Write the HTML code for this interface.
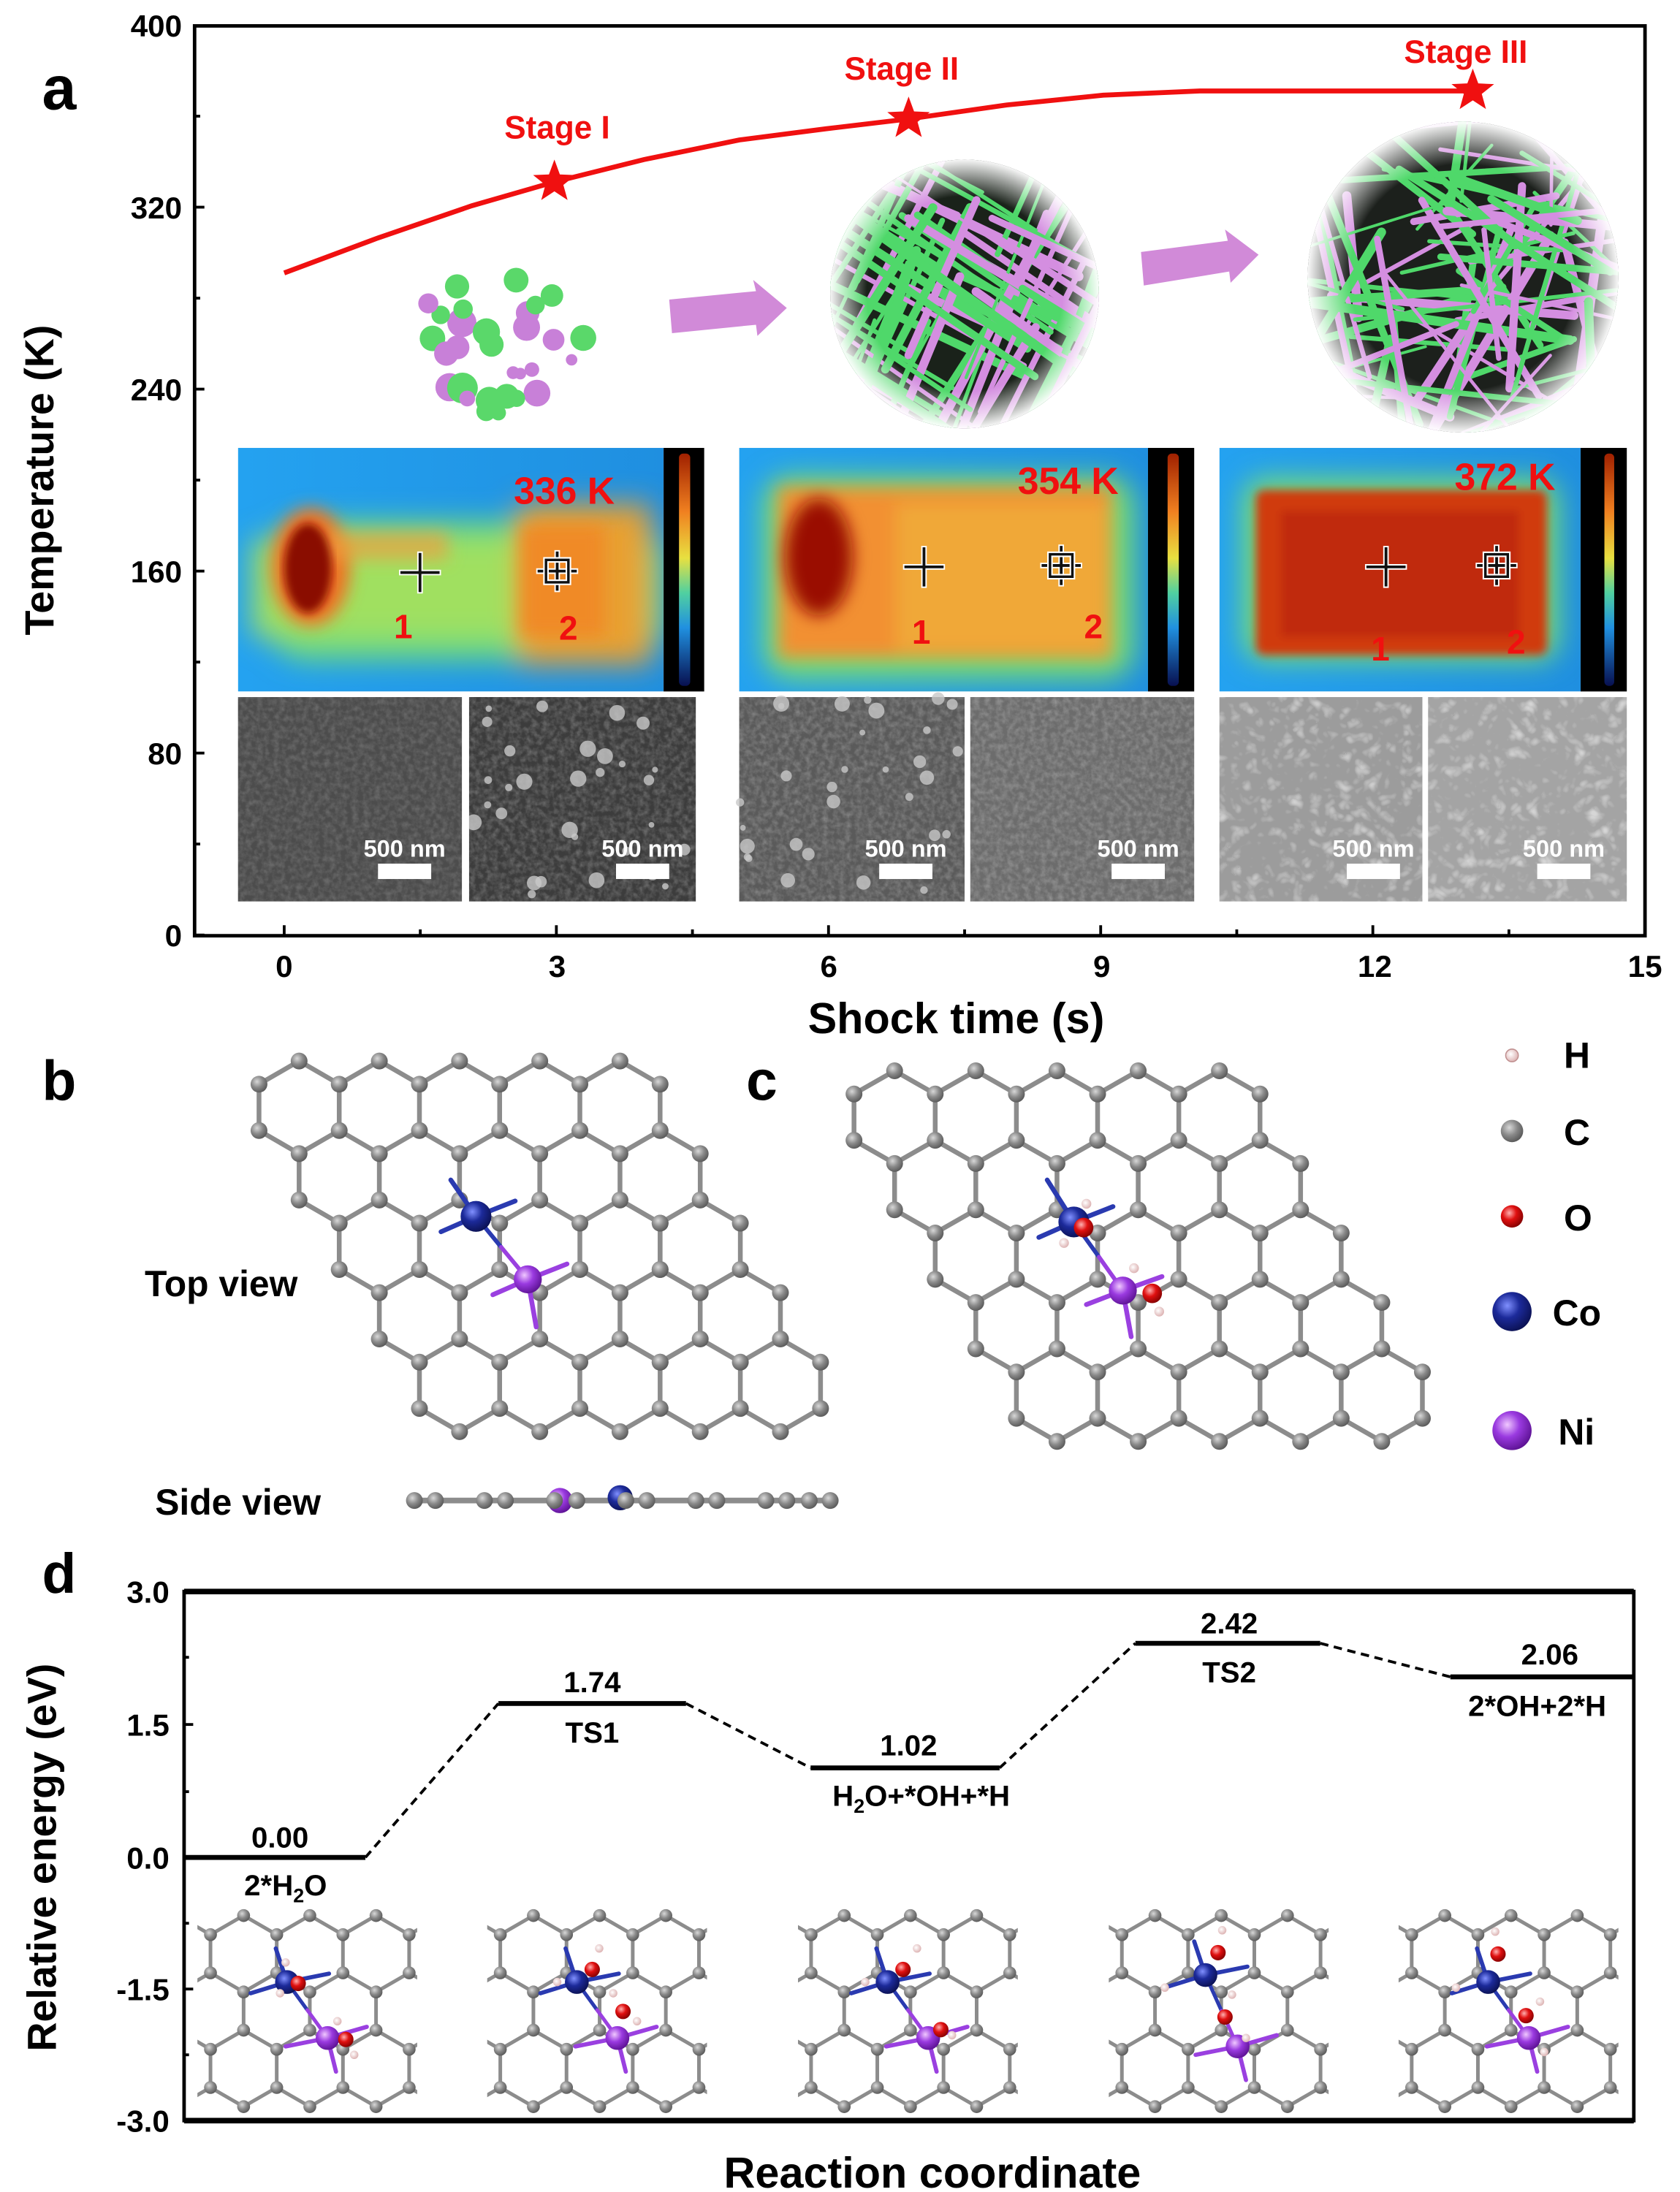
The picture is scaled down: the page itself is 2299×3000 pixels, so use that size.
<!DOCTYPE html>
<html><head><meta charset="utf-8">
<style>
html,body{margin:0;padding:0;background:#fff;}
svg{display:block;}
text{font-family:"Liberation Sans",Arial,sans-serif;font-weight:bold;}
</style></head>
<body>
<svg id="s" xmlns="http://www.w3.org/2000/svg" width="2299" height="3000" viewBox="0 0 1200 1566" preserveAspectRatio="none">
<defs>
  <filter id="blur6" x="-30%" y="-30%" width="160%" height="160%"><feGaussianBlur stdDeviation="6"/></filter>
  <filter id="blur10" x="-30%" y="-30%" width="160%" height="160%"><feGaussianBlur stdDeviation="10"/></filter>
  <filter id="blur3"><feGaussianBlur stdDeviation="3"/></filter>
  <filter id="noise" x="0" y="0" width="100%" height="100%">
    <feTurbulence type="fractalNoise" baseFrequency="0.25" numOctaves="3" seed="3"/>
    <feColorMatrix type="matrix" values="0 0 0 0 1  0 0 0 0 1  0 0 0 0 1  1.2 0 0 0 -0.4"/>
  </filter>
  <filter id="noise2" x="0" y="0" width="100%" height="100%">
    <feTurbulence type="turbulence" baseFrequency="0.09" numOctaves="2" seed="7"/>
    <feColorMatrix type="matrix" values="0 0 0 0 1  0 0 0 0 1  0 0 0 0 1  2 0 0 0 -0.5"/>
  </filter>
  <linearGradient id="cbar" x1="0" y1="0" x2="0" y2="1">
    <stop offset="0" stop-color="#a02000"/><stop offset="0.25" stop-color="#f08020"/>
    <stop offset="0.45" stop-color="#e8e040"/><stop offset="0.6" stop-color="#50d0a0"/>
    <stop offset="0.75" stop-color="#2090e0"/><stop offset="1" stop-color="#081050"/>
  </linearGradient>
  <linearGradient id="tbg" x1="0" y1="0" x2="1" y2="0">
    <stop offset="0" stop-color="#24a2f0"/><stop offset="1" stop-color="#1f8fe0"/>
  </linearGradient>
  <radialGradient id="fade">
    <stop offset="0.72" stop-color="#fff" stop-opacity="0"/>
    <stop offset="1" stop-color="#fff" stop-opacity="1"/>
  </radialGradient>
  <radialGradient id="gC" cx="0.38" cy="0.35" r="0.7"><stop offset="0" stop-color="#d8d8d8"/><stop offset="0.5" stop-color="#8a8a8a"/><stop offset="1" stop-color="#555"/></radialGradient>
  <radialGradient id="gCo" cx="0.38" cy="0.35" r="0.7"><stop offset="0" stop-color="#8090ff"/><stop offset="0.45" stop-color="#1c2a9a"/><stop offset="1" stop-color="#0a1050"/></radialGradient>
  <radialGradient id="gNi" cx="0.38" cy="0.35" r="0.7"><stop offset="0" stop-color="#f0c8ff"/><stop offset="0.45" stop-color="#9a3ae0"/><stop offset="1" stop-color="#5a1090"/></radialGradient>
  <radialGradient id="gO" cx="0.38" cy="0.35" r="0.7"><stop offset="0" stop-color="#ffb0b0"/><stop offset="0.45" stop-color="#e01010"/><stop offset="1" stop-color="#800000"/></radialGradient>
  <radialGradient id="gH" cx="0.4" cy="0.4" r="0.7"><stop offset="0" stop-color="#fff"/><stop offset="1" stop-color="#d8a8a8"/></radialGradient>
  <clipPath id="c1"><circle cx="689" cy="210" r="96"/></clipPath>
  <clipPath id="c2"><circle cx="1045" cy="198" r="111"/></clipPath>
  <clipPath id="t1"><rect x="170" y="320" width="304" height="174"/></clipPath>
  <clipPath id="t2"><rect x="528" y="320" width="292" height="174"/></clipPath>
  <clipPath id="t3"><rect x="871" y="320" width="258" height="174"/></clipPath>
</defs>

<!-- ============ PANEL A ============ -->
<text x="30" y="78" font-size="44">a</text>
<rect x="139" y="18.5" width="1036" height="650" fill="none" stroke="#000" stroke-width="2.5"/>
<g id="aticks" stroke="#000" stroke-width="2"></g>
<g font-size="22" text-anchor="end">
  <text x="130" y="26">400</text><text x="130" y="156">320</text><text x="130" y="286">240</text>
  <text x="130" y="416">160</text><text x="130" y="546">80</text><text x="130" y="676">0</text>
</g>
<g font-size="22" text-anchor="middle">
  <text x="203" y="698">0</text><text x="398" y="698">3</text><text x="592" y="698">6</text>
  <text x="787" y="698">9</text><text x="982" y="698">12</text><text x="1175" y="698">15</text>
</g>
<text x="683" y="738" font-size="31" text-anchor="middle">Shock time (s)</text>
<text transform="translate(38,343) rotate(-90)" font-size="29" text-anchor="middle">Temperature (K)</text>

<!-- spheres & particles -->
<g id="parts"></g>
<polygon points="478,214 540,208 538,200 562,220 541,240 540,232 480,238" fill="#d18ad8"/>
<polygon points="815,180 877,172 875,164 899,182 879,202 878,194 817,204" fill="#d18ad8"/>
<g clip-path="url(#c1)"><rect x="590" y="110" width="200" height="200" fill="#1a221a"/><g id="sph1"></g><circle cx="689" cy="210" r="97" fill="url(#fade)"/></g>
<g clip-path="url(#c2)"><rect x="930" y="85" width="230" height="230" fill="#1c201c"/><g id="sph2"></g><circle cx="1045" cy="198" r="112" fill="url(#fade)"/></g>

<!-- red curve -->
<polyline points="203,195 270,170 337,147 396,130 460,114 528,100 590,92 649,85 719,75 788,68 857,65 1052,65" fill="none" stroke="#f01010" stroke-width="3.5"/>
<g id="stars" fill="#f01010"></g>
<g fill="#f01010" font-size="23" text-anchor="middle">
  <text x="398" y="99">Stage I</text><text x="644" y="57">Stage II</text><text x="1047" y="45">Stage III</text>
</g>

<!-- thermal images -->
<g clip-path="url(#t1)">
  <rect x="170" y="320" width="304" height="174" fill="url(#tbg)"/>
  <g filter="url(#blur10)">
    <rect x="190" y="372" width="285" height="100" rx="30" fill="#6fdc7a"/>
    <rect x="180" y="385" width="280" height="70" fill="#a0e060"/>
    <rect x="370" y="360" width="95" height="115" fill="#e8a030"/>
  </g>
  <g filter="url(#blur6)">
    <rect x="372" y="375" width="60" height="80" fill="#f08a28"/>
    <ellipse cx="222" cy="405" rx="28" ry="42" fill="#f07020"/>
    <rect x="230" y="380" width="90" height="20" fill="#f0a040" opacity="0.7"/>
  </g>
  <ellipse cx="220" cy="406" rx="17" ry="32" fill="#8a0a02" filter="url(#blur3)"/>
</g>
<rect x="474" y="320" width="29" height="174" fill="#000"/>
<rect x="485" y="324" width="8" height="166" rx="3" fill="url(#cbar)"/>

<g clip-path="url(#t2)">
  <rect x="528" y="320" width="292" height="174" fill="url(#tbg)"/>
  <g filter="url(#blur10)"><rect x="545" y="340" width="265" height="145" rx="20" fill="#7ade70"/></g>
  <g filter="url(#blur6)"><rect x="556" y="348" width="238" height="122" fill="#f29030"/>
  <rect x="640" y="360" width="150" height="105" fill="#f0a838"/></g>
  <ellipse cx="585" cy="398" rx="24" ry="42" fill="#9a1004" filter="url(#blur6)"/>
</g>
<rect x="820" y="320" width="33" height="174" fill="#000"/>
<rect x="834" y="324" width="8" height="166" rx="3" fill="url(#cbar)"/>

<g clip-path="url(#t3)">
  <rect x="871" y="320" width="258" height="174" fill="url(#tbg)"/>
  <g filter="url(#blur10)"><rect x="888" y="342" width="225" height="130" rx="15" fill="#7ade70"/></g>
  <g filter="url(#blur3)"><rect x="897" y="350" width="208" height="118" rx="6" fill="#d03a10"/>
  <rect x="915" y="365" width="170" height="90" fill="#c02a08"/></g>
</g>
<rect x="1129" y="320" width="33" height="174" fill="#000"/>
<rect x="1146" y="324" width="7" height="166" rx="3" fill="url(#cbar)"/>

<g fill="#f01010" font-size="27" text-anchor="middle">
  <text x="403" y="360">336 K</text><text x="763" y="353">354 K</text><text x="1075" y="350">372 K</text>
</g>
<g fill="#f01010" font-size="24" text-anchor="middle">
  <text x="288" y="456">1</text><text x="406" y="457">2</text>
  <text x="658" y="460">1</text><text x="781" y="456">2</text>
  <text x="986" y="472">1</text><text x="1083" y="467">2</text>
</g>
<g id="cross"></g>

<!-- SEM images -->
<g id="sem"></g>

<!-- ============ PANEL B / C ============ -->
<text x="30" y="786" font-size="40">b</text>
<text x="533" y="786" font-size="40">c</text>
<text x="158" y="926" font-size="26" text-anchor="middle">Top view</text>
<text x="170" y="1082" font-size="26" text-anchor="middle">Side view</text>
<g id="latb"></g>
<g id="latc"></g>
<g id="side"></g>

<!-- legend -->
<circle cx="1080" cy="754" r="4.5" fill="url(#gH)" stroke="#c09090" stroke-width="0.8"/>
<circle cx="1080" cy="808" r="8" fill="url(#gC)"/>
<circle cx="1080" cy="869" r="8" fill="url(#gO)"/>
<circle cx="1080" cy="937" r="14" fill="url(#gCo)"/>
<circle cx="1080" cy="1022" r="14" fill="url(#gNi)"/>
<g font-size="26">
  <text x="1117" y="763">H</text><text x="1117" y="818">C</text><text x="1117" y="879">O</text>
  <text x="1109" y="947">Co</text><text x="1113" y="1032">Ni</text>
</g>

<!-- ============ PANEL D ============ -->
<text x="30" y="1138" font-size="40">d</text>
<g id="latd"></g>
<rect x="131.5" y="1137" width="1035.5" height="378" fill="none" stroke="#000" stroke-width="2.5"/>
<line x1="131.5" y1="1137" x2="1167" y2="1137" stroke="#000" stroke-width="4"/>
<line x1="131.5" y1="1515" x2="1167" y2="1515" stroke="#000" stroke-width="4"/>
<g stroke="#000" stroke-width="2">
  <line x1="131.5" y1="1232" x2="138" y2="1232"/><line x1="131.5" y1="1327" x2="138" y2="1327"/>
  <line x1="131.5" y1="1421" x2="138" y2="1421"/>
  <line x1="131.5" y1="1184" x2="135" y2="1184"/><line x1="131.5" y1="1280" x2="135" y2="1280"/>
  <line x1="131.5" y1="1374" x2="135" y2="1374"/><line x1="131.5" y1="1468" x2="135" y2="1468"/>
</g>
<g font-size="22" text-anchor="end">
  <text x="121" y="1145">3.0</text><text x="121" y="1240">1.5</text><text x="121" y="1335">0.0</text>
  <text x="121" y="1429">-1.5</text><text x="121" y="1523">-3.0</text>
</g>
<text transform="translate(40,1327) rotate(-90)" font-size="29" text-anchor="middle">Relative energy (eV)</text>
<text x="666" y="1563" font-size="31" text-anchor="middle">Reaction coordinate</text>
<g stroke="#000" stroke-width="3.5">
  <line x1="131.5" y1="1327" x2="261" y2="1327"/>
  <line x1="356" y1="1217" x2="490" y2="1217"/>
  <line x1="579" y1="1263" x2="714" y2="1263"/>
  <line x1="811" y1="1174" x2="943" y2="1174"/>
  <line x1="1036" y1="1198" x2="1167" y2="1198"/>
</g>
<g stroke="#000" stroke-width="2" stroke-dasharray="6,4" fill="none">
  <line x1="261" y1="1327" x2="356" y2="1217"/>
  <line x1="490" y1="1217" x2="579" y2="1263"/>
  <line x1="714" y1="1263" x2="811" y2="1174"/>
  <line x1="943" y1="1174" x2="1036" y2="1198"/>
</g>
<g font-size="21" text-anchor="middle">
  <text x="200" y="1320">0.00</text>
  <text x="423" y="1209">1.74</text><text x="423" y="1245">TS1</text>
  <text x="649" y="1254">1.02</text>
  <text x="658" y="1290">H<tspan font-size="14" dy="5">2</tspan><tspan dy="-5">O+*OH+*H</tspan></text>
  <text x="878" y="1167">2.42</text><text x="878" y="1202">TS2</text>
  <text x="1107" y="1189">2.06</text><text x="1098" y="1226">2*OH+2*H</text>
  <text x="204" y="1354">2*H<tspan font-size="14" dy="5">2</tspan><tspan dy="-5">O</tspan></text>
</g>
</svg>

<script>
(function(){
var NS="http://www.w3.org/2000/svg";
function el(parent,tag,attrs){var e=document.createElementNS(NS,tag);for(var k in attrs)e.setAttribute(k,attrs[k]);parent.appendChild(e);return e;}
function $(id){return document.getElementById(id);}
var seed=12345;function rnd(){seed=(seed*1103515245+12345)&0x7fffffff;return seed/0x7fffffff;}

// axis ticks panel a
var at=$("aticks");
[18.5,148,278,408,538,668].forEach(function(y){el(at,"line",{x1:139,y1:y,x2:146,y2:y});});
[83,213,343,473,603].forEach(function(y){el(at,"line",{x1:139,y1:y,x2:143,y2:y});});
for(var i=0;i<=10;i++){var x=203+i*97.2;el(at,"line",{x1:x,y1:668,x2:x,y2:i%2==0?661:664});}

// stars
function star(g,cx,cy,R){var p=[];for(var k=0;k<10;k++){var r=k%2?R*0.42:R;var a=-Math.PI/2+k*Math.PI/5;p.push((cx+r*Math.cos(a)).toFixed(1)+","+(cy+r*Math.sin(a)).toFixed(1));}el(g,"polygon",{points:p.join(" ")});}
star($("stars"),396,130,16);star($("stars"),649,85,16);star($("stars"),1052,65,16);

// particles
var pg=$("parts");
for(var i=0;i<32;i++){var x=295+rnd()*125,y=190+rnd()*110;var r=4+rnd()*7;
 el(pg,"circle",{cx:x,cy:y,r:r,fill:rnd()<0.55?"#5ad86a":"#c880d8"});}

// sphere textures
function sphere(g,cx,cy,R,n,mode){
 for(var i=0;i<n;i++){var x=cx-R+rnd()*2*R,y=cy-R+rnd()*2*R;var ang;
  if(mode==1){ang=(rnd()<0.5?-1.1:0.5)+ (rnd()-0.5)*0.25;}else{ang=rnd()*Math.PI;}
  var L=40+rnd()*80;var c=rnd()<0.5?"#4fd86a":"#d48ee0";
  el(g,"line",{x1:x-L*Math.cos(ang),y1:y-L*Math.sin(ang),x2:x+L*Math.cos(ang),y2:y+L*Math.sin(ang),stroke:c,"stroke-width":(2+rnd()*5).toFixed(1),"stroke-linecap":"round"});}
}
sphere($("sph1"),689,210,96,70,1);
sphere($("sph2"),1045,198,111,80,2);

// crosshairs
var cg=$("cross");
function cross(x,y,big){el(cg,"line",{x1:x-15,y1:y,x2:x+15,y2:y,stroke:"#fff","stroke-width":4});el(cg,"line",{x1:x,y1:y-15,x2:x,y2:y+15,stroke:"#fff","stroke-width":4});
 el(cg,"line",{x1:x-14,y1:y,x2:x+14,y2:y,stroke:"#111","stroke-width":2});el(cg,"line",{x1:x,y1:y-14,x2:x,y2:y+14,stroke:"#111","stroke-width":2});
 if(big){el(cg,"rect",{x:x-8,y:y-8,width:16,height:16,fill:"none",stroke:"#fff","stroke-width":4});el(cg,"rect",{x:x-8,y:y-8,width:16,height:16,fill:"none",stroke:"#111","stroke-width":1.8});}}
cross(300,409,0);cross(398,408,1);cross(660,405,0);cross(758,404,1);cross(990,405,0);cross(1069,404,1);

// SEM
var sg=$("sem");
var sems=[[170,330,"#4c4c4c",0.25],[335,497,"#3c3c3c",0.35],[528,689,"#5a5a5a",0.35],[693,853,"#6c6c6c",0.35],[871,1016,"#9c9c9c",0.55],[1020,1162,"#a4a4a4",0.55]];
var lab=[289,459,647,813,981,1117];
sems.forEach(function(s,i){
 el(sg,"rect",{x:s[0],y:498,width:s[1]-s[0],height:146,fill:s[2]});
 el(sg,"rect",{x:s[0],y:498,width:s[1]-s[0],height:146,fill:"#fff",filter:i>=4?"url(#noise2)":"url(#noise)",opacity:s[3]});
 if(i==1||i==2){for(var k=0;k<30;k++){el(sg,"circle",{cx:s[0]+rnd()*(s[1]-s[0]),cy:498+rnd()*146,r:2+rnd()*4,fill:"#c8c8c8",opacity:0.8});}}
 el(sg,"text",{x:lab[i],y:612,"font-size":17,"text-anchor":"middle",fill:"#fff"}).textContent="500 nm";
 el(sg,"rect",{x:lab[i]-19,y:617,width:38,height:11,fill:"#fff"});
});
el(sg,"rect",{x:330,y:498,width:5,height:146,fill:"#fff"});
el(sg,"rect",{x:689,y:498,width:4,height:146,fill:"#fff"});
el(sg,"rect",{x:1016,y:498,width:4,height:146,fill:"#fff"});

// atoms
function atom(g,x,y,r,type){el(g,"circle",{cx:x,cy:y,r:r,fill:"url(#g"+type+")"});}
function bond(g,x1,y1,x2,y2,w,c){el(g,"line",{x1:x1,y1:y1,x2:x2,y2:y2,stroke:c||"#888","stroke-width":w,"stroke-linecap":"round"});}

// parallelogram lattice
function hexLattice(g,left,top,w,a,nx,ny,r,bw){
 var pts={},edges={};
 for(var j=0;j<ny;j++)for(var i=0;i<nx;i++){
  var cx=left+w/2+i*w+j*w/2,cy=top+a+j*1.5*a;
  var v=[[cx,cy-a],[cx+w/2,cy-a/2],[cx+w/2,cy+a/2],[cx,cy+a],[cx-w/2,cy+a/2],[cx-w/2,cy-a/2]];
  for(var k=0;k<6;k++){var p=v[k],q=v[(k+1)%6];var kp=Math.round(p[0])+","+Math.round(p[1]);pts[kp]=p;
   var kq=Math.round(q[0])+","+Math.round(q[1]);var ke=kp<kq?kp+"|"+kq:kq+"|"+kp;edges[ke]=[p,q];}
 }
 for(var e in edges){var E=edges[e];bond(g,E[0][0],E[0][1],E[1][0],E[1][1],bw,"#8c8c8c");}
 for(var p in pts){atom(g,pts[p][0],pts[p][1],r,"C");}
}
var gb=$("latb");hexLattice(gb,185,758,57.3,33.1,5,5,6,3.4);
// Co/Ni b
bond(gb,340,869,322,843,3.4,"#2a3ab0");bond(gb,340,869,368,858,3.4,"#2a3ab0");bond(gb,340,869,315,880,3.4,"#2a3ab0");
bond(gb,340,869,358,891,3,"#2a3ab0");bond(gb,358,891,377,914,3,"#9a40e0");
bond(gb,377,914,405,903,3.4,"#9a40e0");bond(gb,377,914,352,925,3.4,"#9a40e0");bond(gb,377,914,383,948,3.4,"#9a40e0");
atom(gb,340,869,11,"Co");atom(gb,377,914,10,"Ni");

var gc=$("latc");hexLattice(gc,610,765,58,33.1,5,5,6,3.4);
bond(gc,767,873,748,843,3.4,"#2a3ab0");bond(gc,767,873,795,862,3.4,"#2a3ab0");bond(gc,767,873,742,884,3.4,"#2a3ab0");
bond(gc,767,873,785,898,3,"#2a3ab0");bond(gc,785,898,802,922,3,"#9a40e0");
bond(gc,802,922,830,912,3.4,"#9a40e0");bond(gc,802,922,776,932,3.4,"#9a40e0");bond(gc,802,922,808,955,3.4,"#9a40e0");
atom(gc,767,873,11,"Co");atom(gc,802,922,10,"Ni");
atom(gc,774,877,7,"O");atom(gc,823,924,7,"O");
atom(gc,760,888,3.5,"H");atom(gc,776,860,3.5,"H");atom(gc,810,906,3.5,"H");atom(gc,828,937,3.5,"H");

// side view
var gs=$("side");
bond(gs,295,1072,593,1072,4,"#8c8c8c");
var sx=[296,311,346,361,396,412,447,462,497,512,547,562,578,593];
atom(gs,400,1072,9,"Ni");atom(gs,443,1070,9,"Co");
sx.forEach(function(x){atom(gs,x,1072,6,"C");});

// rectangular-clipped lattices for panel d
var gd=$("latd");
function rectLattice(left){
 var a=27.3,w=47.3,top=1368.5,bot=1505,right=left+157;
 var g=el(gd,"g",{});
 var cid="cl"+Math.round(left);
 var cp=el(gd,"clipPath",{id:cid});el(cp,"rect",{x:left,y:top-8,width:157,height:bot-top+16});
 var bg=el(g,"g",{"clip-path":"url(#"+cid+")"});
 var px=left+33;var A=[],B=[];
 for(var m=-2;m<8;m++)for(var n=-6;n<8;n++){var x=px+n*w+m*w/2,y=top+m*1.5*a;A.push([x,y]);B.push([x+w/2,y+a/2]);}
 var inside=function(p){return p[0]>=left-1&&p[0]<=right+1&&p[1]>=top-1&&p[1]<=bot+1;};
 var all=A.concat(B);
 for(var i=0;i<A.length;i++){var p=A[i];var nb=[[p[0]+w/2,p[1]+a/2],[p[0]-w/2,p[1]+a/2],[p[0],p[1]-a]];
  nb.forEach(function(q){var ext=function(p){return p[0]>=left-30&&p[0]<=right+30&&p[1]>=top-1&&p[1]<=bot+1;};
   if((inside(p)||inside(q))&&ext(p)&&ext(q))bond(bg,p[0],p[1],q[0],q[1],2.6,"#8c8c8c");});}
 all.forEach(function(p){if(inside(p))atom(g,p[0],p[1],4.6,"C");});
 return g;
}
var lefts=[141,348,570,792,999];
var ads=[
 {O:[[213,1417],[247,1457]],H:[[204,1402],[200,1424],[241,1444],[253,1468]]},
 {O:[[423,1407],[445,1437]],H:[[428,1392],[398,1416],[438,1424],[455,1444]]},
 {O:[[645,1407],[672,1450]],H:[[655,1392],[618,1416],[680,1454]]},
 {O:[[870,1395],[875,1441]],H:[[873,1379],[880,1425],[832,1420],[890,1456]]},
 {O:[[1070,1396],[1090,1440]],H:[[1068,1380],[1100,1430],[1040,1420],[1103,1466]]}
];
lefts.forEach(function(L,i){
 var g=rectLattice(L);
 var co=[L+64,1416],ni=[L+93,1456];
 if(i==3){co=[L+69,1411];ni=[L+92,1462];}
 bond(g,co[0],co[1],co[0]-26,co[1]+8,3,"#2a3ab0");bond(g,co[0],co[1],co[0]+30,co[1]-6,3,"#2a3ab0");bond(g,co[0],co[1],co[0]-8,co[1]-24,3,"#2a3ab0");
 bond(g,co[0],co[1],(co[0]+ni[0])/2,(co[1]+ni[1])/2,2.6,"#2a3ab0");bond(g,(co[0]+ni[0])/2,(co[1]+ni[1])/2,ni[0],ni[1],2.6,"#9a40e0");
 bond(g,ni[0],ni[1],ni[0]-30,ni[1]+6,3,"#9a40e0");bond(g,ni[0],ni[1],ni[0]+28,ni[1]-8,3,"#9a40e0");bond(g,ni[0],ni[1],ni[0]+6,ni[1]+24,3,"#9a40e0");
 atom(g,co[0],co[1],8.5,"Co");atom(g,ni[0],ni[1],8.5,"Ni");
 ads[i].O.forEach(function(o){atom(g,o[0],o[1],5.5,"O");});
 ads[i].H.forEach(function(h){atom(g,h[0],h[1],3,"H");});
});
})();
</script>
</body></html>
